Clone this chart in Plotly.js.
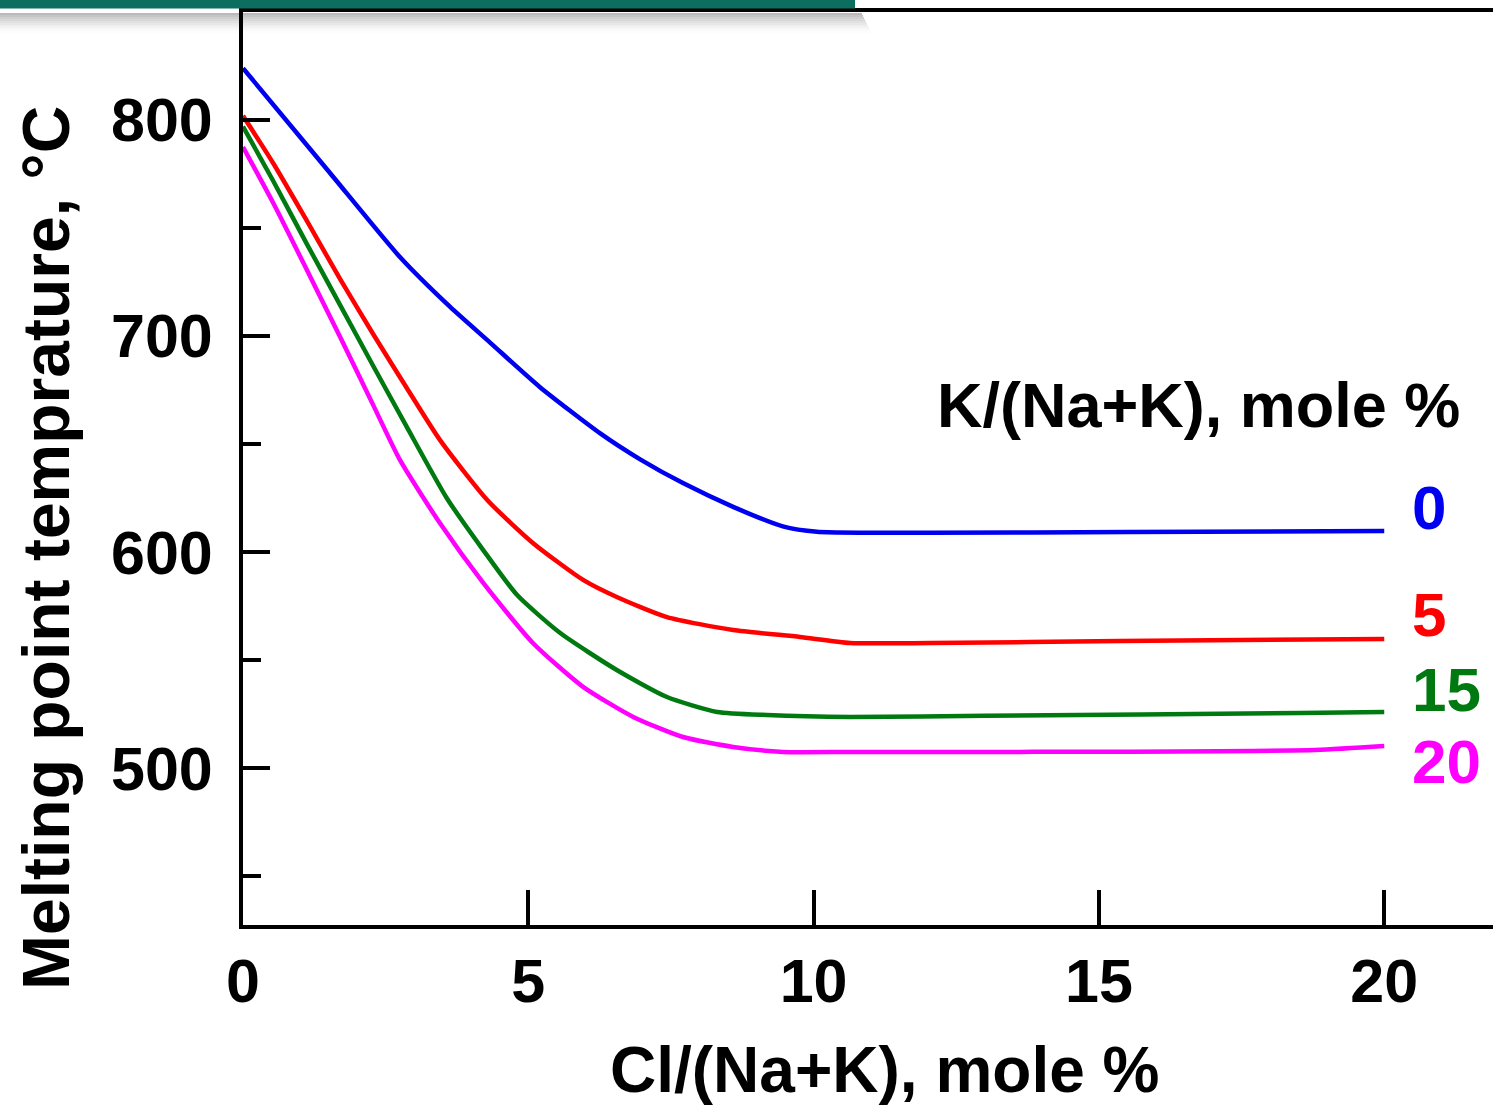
<!DOCTYPE html>
<html>
<head>
<meta charset="utf-8">
<script src="https://cdn.plot.ly/plotly-3.0.1.min.js"></script>
<style>
  html, body { margin: 0; padding: 0; background: #ffffff; }
  #chart { width: 1493px; height: 1105px; }
</style>
</head>
<body>
<div id="chart"></div>
<script>
// ---- Data ----
// x: Cl/(Na+K), mole %   y: melting point temperature, °C
const seriesNames = ["0", "5", "15", "20"];          // K/(Na+K), mole %
const seriesColors = ["#0000f0", "#ff0000", "#007a10", "#ff00ff"];

const x_k0 = [0, 1.525, 2.75, 3.63, 4.33, 5.20, 6.26, 6.96, 7.71, 8.59, 9.46, 10.06, 12.04, 15.53, 20.0];
const t_k0 = [824, 775.5, 736.6, 713.5, 697, 676.5, 655, 643, 632, 621, 612, 609.5, 609, 609.4, 609.8];

const x_k5 = [0, 0.53, 1.12, 1.70, 2.28, 2.87, 3.45, 4.28, 5.08, 5.96, 6.55, 7.43, 8.59, 9.76, 10.64, 12.04, 15.37, 20.0];
const t_k5 = [802, 780, 753.3, 726.5, 701, 676, 652, 624.2, 604.3, 587.2, 579.3, 570, 564, 560.8, 558, 558, 558.9, 559.9];

const x_k15 = [0, 0.53, 1.12, 1.70, 2.28, 2.87, 3.57, 4.21, 4.80, 5.56, 6.55, 7.43, 8.31, 9.18, 10.64, 13.0, 18.53, 20.0];
const t_k15 = [797, 771.8, 742.6, 714.5, 686.3, 658, 625.1, 601, 580.3, 562.6, 545.5, 533, 526.1, 524.7, 523.8, 524.3, 525.6, 526.1];

const x_k20 = [0, 0.53, 1.12, 1.70, 2.28, 2.75, 3.45, 4.21, 5.08, 5.96, 6.84, 7.71, 8.59, 9.46, 10.64, 13.62, 18.79, 20.0];
const t_k20 = [787.5, 761.6, 730.6, 699.7, 668.2, 642.7, 613.5, 585.8, 558, 537.7, 523.8, 514.5, 509.9, 507.6, 507.6, 507.6, 508.5, 510.3];

const xTickVals = [0, 5, 10, 15, 20];
const yTickVals = [500, 600, 700, 800];

const xTitle = "Cl/(Na+K), mole %";
const yTitle = "Melting point temprature, °C";
const legendTitle = "K/(Na+K), mole %";
// label positions (data coords) for the series labels at the right end
const labelY = [620.5, 571, 536.3, 503];

// ---- Figure ----
const W = 1493, H = 1105;
const M = { l: 243, r: 0, t: 12, b: 180 };
const plotW = W - M.l - M.r, plotH = H - M.t - M.b;
const px2paperX = px => (px - M.l) / plotW;
const px2paperY = py => 1 - (py - M.t) / plotH;

const FONT = "Liberation Sans, Arial, Helvetica, sans-serif";

const xs = [x_k0, x_k5, x_k15, x_k20];
const ys = [t_k0, t_k5, t_k15, t_k20];

const traces = seriesNames.map((n, i) => ({
  type: "scatter",
  mode: "lines",
  name: n,
  x: xs[i],
  y: ys[i],
  line: { color: seriesColors[i], width: 4.5, shape: "spline", smoothing: 0.6 },
  hoverinfo: "skip"
}));

const annotations = seriesNames.map((n, i) => ({
  x: 20.45, y: labelY[i], xref: "x", yref: "y",
  text: n, showarrow: false, xanchor: "left", yanchor: "middle",
  font: { family: FONT, size: 62, color: seriesColors[i], weight: "bold" }
}));

annotations.push({
  x: 16.74, y: 668, xref: "x", yref: "y",
  text: legendTitle, showarrow: false, xanchor: "center", yanchor: "middle",
  font: { family: FONT, size: 63, color: "#000", weight: "bold" }
});
annotations.push({
  x: px2paperX(885), y: px2paperY(1070), xref: "paper", yref: "paper",
  text: xTitle, showarrow: false, xanchor: "center", yanchor: "middle",
  font: { family: FONT, size: 64, color: "#000", weight: "bold" }
});
annotations.push({
  x: px2paperX(46), y: px2paperY(548), xref: "paper", yref: "paper",
  text: yTitle, showarrow: false, xanchor: "center", yanchor: "middle", textangle: -90,
  font: { family: FONT, size: 66, color: "#000", weight: "bold" }
});

// decorative slide banner (top-left) with soft shadow
const shapes = [];
for (let k = 0; k < 10; k++) {
  const y0 = 13 + k * 2, y1 = y0 + 2;
  const a = 0.32 * Math.pow(1 - k / 10, 1.6);
  shapes.push({
    type: "rect", xref: "paper", yref: "paper", layer: "below",
    x0: px2paperX(0), x1: px2paperX(862 + k), y0: px2paperY(y1), y1: px2paperY(y0),
    line: { width: 0 }, fillcolor: "rgba(40,40,40," + a.toFixed(3) + ")"
  });
}
shapes.push({
  type: "rect", xref: "paper", yref: "paper", layer: "above",
  x0: px2paperX(0), x1: px2paperX(855), y0: px2paperY(8.5), y1: px2paperY(-5),
  line: { width: 0 }, fillcolor: "#0b6e5f"
});

const layout = {
  width: W, height: H,
  margin: M,
  paper_bgcolor: "#ffffff",
  plot_bgcolor: "#ffffff",
  showlegend: false,
  font: { family: FONT, size: 60, color: "#000", weight: "bold" },
  xaxis: {
    range: [0.0, 21.906],
    tickvals: xTickVals,
    ticktext: xTickVals.map(String),
    ticks: "inside", ticklen: 35, tickwidth: 4, tickcolor: "#000",
    showline: true, linewidth: 4, linecolor: "#000", mirror: true,
    showgrid: false, zeroline: false,
    tickfont: { family: FONT, size: 61, color: "#000", weight: "bold" },
    ticklabelstandoff: 0
  },
  yaxis: {
    range: [427.5, 850.0],
    tickvals: yTickVals,
    ticktext: yTickVals.map(String),
    ticks: "inside", ticklen: 27, tickwidth: 4, tickcolor: "#000",
    minor: { tickvals: [450, 550, 650, 750], ticks: "inside", ticklen: 18, tickwidth: 4, tickcolor: "#000", showgrid: false },
    showline: true, linewidth: 4, linecolor: "#000",
    showgrid: false, zeroline: false,
    tickfont: { family: FONT, size: 61, color: "#000", weight: "bold" },
    ticklabelstandoff: 14
  },
  annotations: annotations,
  shapes: shapes
};

Plotly.newPlot("chart", traces, layout, { displayModeBar: false, staticPlot: true });
</script>
</body>
</html>
